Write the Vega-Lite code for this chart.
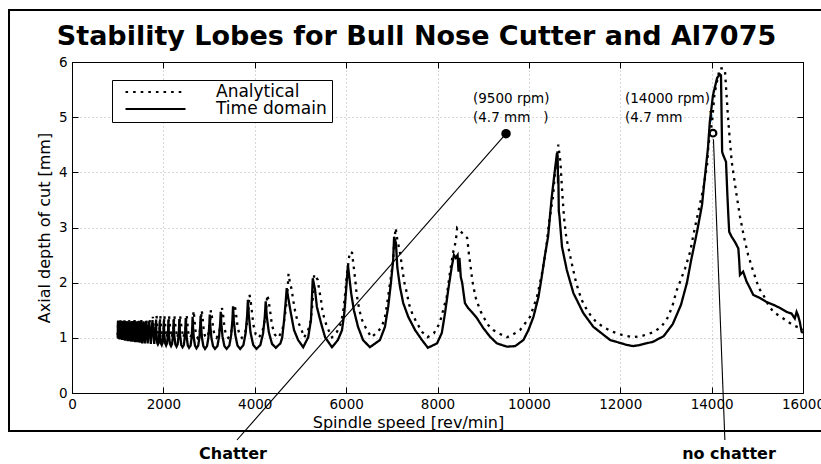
{
"$schema": "https://vega.github.io/schema/vega-lite/v6.json",
"width": 731, "height": 331,
"autosize": {"type": "none"},
"padding": {"left": 72, "top": 62, "right": 18, "bottom": 71},
"background": "white",
"title": {"text": "Stability Lobes for Bull Nose Cutter and Al7075", "font": "DejaVu Sans", "fontWeight": "bold", "fontSize": 27, "color": "#000", "anchor": "middle", "dx": -21, "offset": 0, "dy": 63, "baseline": "alphabetic"},
"config": {"view": {"stroke": "#000", "strokeWidth": 1}, "font": "DejaVu Sans"},
"datasets": {
"lobes": [
{"series":"Analytical","rpm":1000,"depth":1.05},{"series":"Analytical","rpm":1010,"depth":1.32},{"series":"Analytical","rpm":1022,"depth":1.0},{"series":"Analytical","rpm":1035,"depth":1.32},{"series":"Analytical","rpm":1048,"depth":1.0},{"series":"Analytical","rpm":1061,"depth":1.32},{"series":"Analytical","rpm":1074,"depth":1.0},{"series":"Analytical","rpm":1088,"depth":1.32},{"series":"Analytical","rpm":1102,"depth":1.0},{"series":"Analytical","rpm":1116,"depth":1.32},{"series":"Analytical","rpm":1131,"depth":1.0},{"series":"Analytical","rpm":1147,"depth":1.32},{"series":"Analytical","rpm":1163,"depth":1.0},{"series":"Analytical","rpm":1179,"depth":1.32},{"series":"Analytical","rpm":1196,"depth":1.0},{"series":"Analytical","rpm":1213,"depth":1.32},{"series":"Analytical","rpm":1231,"depth":1.0},{"series":"Analytical","rpm":1249,"depth":1.32},{"series":"Analytical","rpm":1268,"depth":1.0},{"series":"Analytical","rpm":1287,"depth":1.32},{"series":"Analytical","rpm":1307,"depth":1.0},{"series":"Analytical","rpm":1327,"depth":1.32},{"series":"Analytical","rpm":1348,"depth":1.0},{"series":"Analytical","rpm":1369,"depth":1.32},{"series":"Analytical","rpm":1392,"depth":1.0},{"series":"Analytical","rpm":1415,"depth":1.32},{"series":"Analytical","rpm":1440,"depth":1.0},{"series":"Analytical","rpm":1464,"depth":1.32},{"series":"Analytical","rpm":1490,"depth":1.0},{"series":"Analytical","rpm":1517,"depth":1.32},{"series":"Analytical","rpm":1545,"depth":1.0},{"series":"Analytical","rpm":1573,"depth":1.32},{"series":"Analytical","rpm":1603,"depth":1.0},{"series":"Analytical","rpm":1634,"depth":1.32},{"series":"Analytical","rpm":1666,"depth":1.0},{"series":"Analytical","rpm":1699,"depth":1.32},{"series":"Analytical","rpm":1734,"depth":1.0},{"series":"Analytical","rpm":1770,"depth":1.38},{"series":"Analytical","rpm":1810,"depth":1.0},{"series":"Analytical","rpm":1850,"depth":1.41},
{"series":"Analytical","rpm":1862,"depth":1.25},{"series":"Analytical","rpm":1891,"depth":1.0},{"series":"Analytical","rpm":1920,"depth":1.18},{"series":"Analytical","rpm":1932,"depth":1.41},
{"series":"Analytical","rpm":1946,"depth":1.25},{"series":"Analytical","rpm":1977,"depth":1.0},{"series":"Analytical","rpm":2008,"depth":1.18},{"series":"Analytical","rpm":2022,"depth":1.41},
{"series":"Analytical","rpm":2037,"depth":1.25},{"series":"Analytical","rpm":2072,"depth":1.0},{"series":"Analytical","rpm":2108,"depth":1.18},{"series":"Analytical","rpm":2123,"depth":1.41},
{"series":"Analytical","rpm":2141,"depth":1.25},{"series":"Analytical","rpm":2181,"depth":1.0},{"series":"Analytical","rpm":2222,"depth":1.18},{"series":"Analytical","rpm":2240,"depth":1.41},
{"series":"Analytical","rpm":2259,"depth":1.25},{"series":"Analytical","rpm":2303,"depth":1.0},{"series":"Analytical","rpm":2347,"depth":1.18},{"series":"Analytical","rpm":2366,"depth":1.41},
{"series":"Analytical","rpm":2387,"depth":1.25},{"series":"Analytical","rpm":2436,"depth":1.0},{"series":"Analytical","rpm":2486,"depth":1.18},{"series":"Analytical","rpm":2507,"depth":1.41},
{"series":"Analytical","rpm":2515,"depth":1.37},{"series":"Analytical","rpm":2525,"depth":1.27},{"series":"Analytical","rpm":2541,"depth":1.12},{"series":"Analytical","rpm":2561,"depth":1.03},{"series":"Analytical","rpm":2584,"depth":1.0},{"series":"Analytical","rpm":2614,"depth":1.05},{"series":"Analytical","rpm":2632,"depth":1.16},{"series":"Analytical","rpm":2648,"depth":1.29},{"series":"Analytical","rpm":2660,"depth":1.49},
{"series":"Analytical","rpm":2669,"depth":1.44},{"series":"Analytical","rpm":2681,"depth":1.33},{"series":"Analytical","rpm":2699,"depth":1.15},{"series":"Analytical","rpm":2722,"depth":1.04},{"series":"Analytical","rpm":2749,"depth":1.0},{"series":"Analytical","rpm":2784,"depth":1.05},{"series":"Analytical","rpm":2805,"depth":1.16},{"series":"Analytical","rpm":2823,"depth":1.3},{"series":"Analytical","rpm":2837,"depth":1.5},
{"series":"Analytical","rpm":2847,"depth":1.45},{"series":"Analytical","rpm":2861,"depth":1.34},{"series":"Analytical","rpm":2882,"depth":1.15},{"series":"Analytical","rpm":2908,"depth":1.04},{"series":"Analytical","rpm":2939,"depth":1.0},{"series":"Analytical","rpm":2979,"depth":1.05},{"series":"Analytical","rpm":3003,"depth":1.16},{"series":"Analytical","rpm":3024,"depth":1.3},{"series":"Analytical","rpm":3040,"depth":1.5},
{"series":"Analytical","rpm":3052,"depth":1.45},{"series":"Analytical","rpm":3069,"depth":1.34},{"series":"Analytical","rpm":3093,"depth":1.15},{"series":"Analytical","rpm":3125,"depth":1.04},{"series":"Analytical","rpm":3161,"depth":1.0},{"series":"Analytical","rpm":3209,"depth":1.05},{"series":"Analytical","rpm":3238,"depth":1.17},{"series":"Analytical","rpm":3263,"depth":1.32},{"series":"Analytical","rpm":3282,"depth":1.54},
{"series":"Analytical","rpm":3296,"depth":1.49},{"series":"Analytical","rpm":3315,"depth":1.36},{"series":"Analytical","rpm":3342,"depth":1.16},{"series":"Analytical","rpm":3378,"depth":1.04},{"series":"Analytical","rpm":3419,"depth":1.0},{"series":"Analytical","rpm":3473,"depth":1.06},{"series":"Analytical","rpm":3506,"depth":1.19},{"series":"Analytical","rpm":3533,"depth":1.36},{"series":"Analytical","rpm":3555,"depth":1.6},
{"series":"Analytical","rpm":3572,"depth":1.54},{"series":"Analytical","rpm":3595,"depth":1.4},{"series":"Analytical","rpm":3628,"depth":1.18},{"series":"Analytical","rpm":3671,"depth":1.05},{"series":"Analytical","rpm":3720,"depth":1.0},{"series":"Analytical","rpm":3786,"depth":1.08},{"series":"Analytical","rpm":3826,"depth":1.25},{"series":"Analytical","rpm":3859,"depth":1.47},{"series":"Analytical","rpm":3885,"depth":1.78},
{"series":"Analytical","rpm":3905,"depth":1.7},{"series":"Analytical","rpm":3932,"depth":1.52},{"series":"Analytical","rpm":3971,"depth":1.23},{"series":"Analytical","rpm":4022,"depth":1.06},{"series":"Analytical","rpm":4080,"depth":1.0},{"series":"Analytical","rpm":4158,"depth":1.08},{"series":"Analytical","rpm":4205,"depth":1.25},{"series":"Analytical","rpm":4244,"depth":1.47},{"series":"Analytical","rpm":4275,"depth":1.78},
{"series":"Analytical","rpm":4298,"depth":1.7},{"series":"Analytical","rpm":4331,"depth":1.52},{"series":"Analytical","rpm":4377,"depth":1.23},{"series":"Analytical","rpm":4438,"depth":1.06},{"series":"Analytical","rpm":4508,"depth":1.0},{"series":"Analytical","rpm":4601,"depth":1.12},{"series":"Analytical","rpm":4656,"depth":1.37},{"series":"Analytical","rpm":4703,"depth":1.7},{"series":"Analytical","rpm":4740,"depth":2.16},
{"series":"Analytical","rpm":4770,"depth":2.0},{"series":"Analytical","rpm":4810,"depth":1.87},{"series":"Analytical","rpm":4840,"depth":1.69},{"series":"Analytical","rpm":4880,"depth":1.5},{"series":"Analytical","rpm":4930,"depth":1.32},{"series":"Analytical","rpm":5010,"depth":1.18},{"series":"Analytical","rpm":5080,"depth":1.01},{"series":"Analytical","rpm":5140,"depth":1.09},{"series":"Analytical","rpm":5210,"depth":1.23},{"series":"Analytical","rpm":5250,"depth":1.5},{"series":"Analytical","rpm":5280,"depth":1.81},{"series":"Analytical","rpm":5300,"depth":2.15},
{"series":"Analytical","rpm":5380,"depth":2.05},{"series":"Analytical","rpm":5410,"depth":1.87},{"series":"Analytical","rpm":5450,"depth":1.69},{"series":"Analytical","rpm":5480,"depth":1.5},{"series":"Analytical","rpm":5520,"depth":1.36},{"series":"Analytical","rpm":5580,"depth":1.2},{"series":"Analytical","rpm":5690,"depth":1.01},{"series":"Analytical","rpm":5800,"depth":1.11},{"series":"Analytical","rpm":5890,"depth":1.27},{"series":"Analytical","rpm":5940,"depth":1.5},{"series":"Analytical","rpm":5980,"depth":1.81},{"series":"Analytical","rpm":6020,"depth":2.17},{"series":"Analytical","rpm":6080,"depth":2.56},
{"series":"Analytical","rpm":6130,"depth":2.54},{"series":"Analytical","rpm":6170,"depth":2.26},{"series":"Analytical","rpm":6200,"depth":2.05},{"series":"Analytical","rpm":6220,"depth":1.87},{"series":"Analytical","rpm":6250,"depth":1.69},{"series":"Analytical","rpm":6290,"depth":1.5},{"series":"Analytical","rpm":6350,"depth":1.32},{"series":"Analytical","rpm":6430,"depth":1.18},{"series":"Analytical","rpm":6550,"depth":1.01},{"series":"Analytical","rpm":6670,"depth":1.09},{"series":"Analytical","rpm":6780,"depth":1.2},{"series":"Analytical","rpm":6850,"depth":1.38},{"series":"Analytical","rpm":6900,"depth":1.63},{"series":"Analytical","rpm":6940,"depth":1.87},{"series":"Analytical","rpm":6980,"depth":2.1},{"series":"Analytical","rpm":7030,"depth":2.41},{"series":"Analytical","rpm":7050,"depth":2.72},{"series":"Analytical","rpm":7085,"depth":2.99},
{"series":"Analytical","rpm":7110,"depth":2.83},{"series":"Analytical","rpm":7180,"depth":2.54},{"series":"Analytical","rpm":7230,"depth":2.26},{"series":"Analytical","rpm":7270,"depth":2.02},{"series":"Analytical","rpm":7330,"depth":1.81},{"series":"Analytical","rpm":7380,"depth":1.6},{"series":"Analytical","rpm":7460,"depth":1.41},{"series":"Analytical","rpm":7550,"depth":1.27},{"series":"Analytical","rpm":7660,"depth":1.11},{"series":"Analytical","rpm":7780,"depth":1.01},{"series":"Analytical","rpm":7920,"depth":1.08},{"series":"Analytical","rpm":8050,"depth":1.27},{"series":"Analytical","rpm":8200,"depth":1.74},{"series":"Analytical","rpm":8270,"depth":2.17},{"series":"Analytical","rpm":8340,"depth":2.54},{"series":"Analytical","rpm":8400,"depth":2.75},{"series":"Analytical","rpm":8430,"depth":2.99},
{"series":"Analytical","rpm":8650,"depth":2.81},{"series":"Analytical","rpm":8690,"depth":2.5},{"series":"Analytical","rpm":8730,"depth":2.26},{"series":"Analytical","rpm":8760,"depth":2.05},{"series":"Analytical","rpm":8800,"depth":1.87},{"series":"Analytical","rpm":8840,"depth":1.72},{"series":"Analytical","rpm":8890,"depth":1.6},{"series":"Analytical","rpm":8950,"depth":1.47},{"series":"Analytical","rpm":9020,"depth":1.36},{"series":"Analytical","rpm":9110,"depth":1.23},{"series":"Analytical","rpm":9220,"depth":1.14},{"series":"Analytical","rpm":9370,"depth":1.07},{"series":"Analytical","rpm":9520,"depth":1.01},{"series":"Analytical","rpm":9650,"depth":1.06},{"series":"Analytical","rpm":9805,"depth":1.14},{"series":"Analytical","rpm":10025,"depth":1.38},{"series":"Analytical","rpm":10177,"depth":1.74},{"series":"Analytical","rpm":10287,"depth":2.17},{"series":"Analytical","rpm":10374,"depth":2.59},{"series":"Analytical","rpm":10440,"depth":3.08},{"series":"Analytical","rpm":10527,"depth":3.55},{"series":"Analytical","rpm":10571,"depth":3.99},{"series":"Analytical","rpm":10645,"depth":4.5},
{"series":"Analytical","rpm":10690,"depth":4.19},{"series":"Analytical","rpm":10730,"depth":3.64},{"series":"Analytical","rpm":10770,"depth":3.17},{"series":"Analytical","rpm":10820,"depth":2.81},{"series":"Analytical","rpm":10900,"depth":2.5},{"series":"Analytical","rpm":10960,"depth":2.27},{"series":"Analytical","rpm":11020,"depth":2.05},{"series":"Analytical","rpm":11080,"depth":1.87},{"series":"Analytical","rpm":11160,"depth":1.68},{"series":"Analytical","rpm":11240,"depth":1.55},{"series":"Analytical","rpm":11340,"depth":1.42},{"series":"Analytical","rpm":11460,"depth":1.3},{"series":"Analytical","rpm":11620,"depth":1.2},{"series":"Analytical","rpm":11830,"depth":1.11},{"series":"Analytical","rpm":12050,"depth":1.05},{"series":"Analytical","rpm":12280,"depth":1.01},{"series":"Analytical","rpm":12500,"depth":1.04},{"series":"Analytical","rpm":12720,"depth":1.1},{"series":"Analytical","rpm":12900,"depth":1.2},{"series":"Analytical","rpm":13050,"depth":1.38},{"series":"Analytical","rpm":13150,"depth":1.6},{"series":"Analytical","rpm":13230,"depth":1.85},{"series":"Analytical","rpm":13310,"depth":2.02},{"series":"Analytical","rpm":13420,"depth":2.26},{"series":"Analytical","rpm":13530,"depth":2.56},{"series":"Analytical","rpm":13600,"depth":2.86},{"series":"Analytical","rpm":13710,"depth":3.29},{"series":"Analytical","rpm":13820,"depth":3.71},{"series":"Analytical","rpm":13900,"depth":4.13},{"series":"Analytical","rpm":13930,"depth":4.5},{"series":"Analytical","rpm":14010,"depth":4.92},{"series":"Analytical","rpm":14060,"depth":5.4},{"series":"Analytical","rpm":14100,"depth":5.58},{"series":"Analytical","rpm":14180,"depth":5.89},{"series":"Analytical","rpm":14290,"depth":5.87},{"series":"Analytical","rpm":14365,"depth":4.92},{"series":"Analytical","rpm":14440,"depth":4.19},{"series":"Analytical","rpm":14535,"depth":3.65},{"series":"Analytical","rpm":14620,"depth":3.2},{"series":"Analytical","rpm":14710,"depth":2.82},{"series":"Analytical","rpm":14800,"depth":2.5},{"series":"Analytical","rpm":14890,"depth":2.26},{"series":"Analytical","rpm":14950,"depth":2.11},{"series":"Analytical","rpm":15035,"depth":1.9},{"series":"Analytical","rpm":15130,"depth":1.78},{"series":"Analytical","rpm":15240,"depth":1.6},{"series":"Analytical","rpm":15350,"depth":1.47},{"series":"Analytical","rpm":15570,"depth":1.35},{"series":"Analytical","rpm":15780,"depth":1.23},{"series":"Analytical","rpm":15930,"depth":1.18},{"series":"Analytical","rpm":16000,"depth":1.15},
{"series":"Time domain","rpm":1000,"depth":1.0},{"series":"Time domain","rpm":1006,"depth":1.3},{"series":"Time domain","rpm":1018,"depth":0.98},{"series":"Time domain","rpm":1030,"depth":1.3},{"series":"Time domain","rpm":1043,"depth":0.97},{"series":"Time domain","rpm":1056,"depth":1.3},{"series":"Time domain","rpm":1070,"depth":0.97},{"series":"Time domain","rpm":1083,"depth":1.3},{"series":"Time domain","rpm":1097,"depth":0.96},{"series":"Time domain","rpm":1111,"depth":1.3},{"series":"Time domain","rpm":1126,"depth":0.96},{"series":"Time domain","rpm":1142,"depth":1.3},{"series":"Time domain","rpm":1158,"depth":0.95},{"series":"Time domain","rpm":1174,"depth":1.3},{"series":"Time domain","rpm":1190,"depth":0.95},{"series":"Time domain","rpm":1207,"depth":1.3},{"series":"Time domain","rpm":1225,"depth":0.94},{"series":"Time domain","rpm":1243,"depth":1.3},{"series":"Time domain","rpm":1261,"depth":0.94},{"series":"Time domain","rpm":1280,"depth":1.3},{"series":"Time domain","rpm":1300,"depth":0.93},{"series":"Time domain","rpm":1320,"depth":1.3},{"series":"Time domain","rpm":1341,"depth":0.93},{"series":"Time domain","rpm":1362,"depth":1.3},{"series":"Time domain","rpm":1385,"depth":0.92},{"series":"Time domain","rpm":1408,"depth":1.3},{"series":"Time domain","rpm":1432,"depth":0.92},{"series":"Time domain","rpm":1457,"depth":1.3},{"series":"Time domain","rpm":1483,"depth":0.91},{"series":"Time domain","rpm":1509,"depth":1.3},{"series":"Time domain","rpm":1537,"depth":0.9},{"series":"Time domain","rpm":1565,"depth":1.3},{"series":"Time domain","rpm":1595,"depth":0.9},{"series":"Time domain","rpm":1625,"depth":1.3},{"series":"Time domain","rpm":1657,"depth":0.9},{"series":"Time domain","rpm":1690,"depth":1.3},{"series":"Time domain","rpm":1725,"depth":0.89},{"series":"Time domain","rpm":1761,"depth":1.32},{"series":"Time domain","rpm":1800,"depth":0.89},{"series":"Time domain","rpm":1840,"depth":1.3},
{"series":"Time domain","rpm":1848,"depth":1.07},{"series":"Time domain","rpm":1864,"depth":0.91},{"series":"Time domain","rpm":1880,"depth":0.88},{"series":"Time domain","rpm":1896,"depth":0.91},{"series":"Time domain","rpm":1912,"depth":1.07},{"series":"Time domain","rpm":1920,"depth":1.3},
{"series":"Time domain","rpm":1929,"depth":1.06},{"series":"Time domain","rpm":1947,"depth":0.9},{"series":"Time domain","rpm":1965,"depth":0.87},{"series":"Time domain","rpm":1983,"depth":0.91},{"series":"Time domain","rpm":2001,"depth":1.07},{"series":"Time domain","rpm":2010,"depth":1.31},
{"series":"Time domain","rpm":2020,"depth":1.06},{"series":"Time domain","rpm":2040,"depth":0.9},{"series":"Time domain","rpm":2060,"depth":0.86},{"series":"Time domain","rpm":2080,"depth":0.9},{"series":"Time domain","rpm":2100,"depth":1.07},{"series":"Time domain","rpm":2110,"depth":1.32},
{"series":"Time domain","rpm":2121,"depth":1.06},{"series":"Time domain","rpm":2145,"depth":0.89},{"series":"Time domain","rpm":2168,"depth":0.85},{"series":"Time domain","rpm":2190,"depth":0.89},{"series":"Time domain","rpm":2214,"depth":1.07},{"series":"Time domain","rpm":2225,"depth":1.33},
{"series":"Time domain","rpm":2237,"depth":1.06},{"series":"Time domain","rpm":2262,"depth":0.88},{"series":"Time domain","rpm":2288,"depth":0.84},{"series":"Time domain","rpm":2312,"depth":0.88},{"series":"Time domain","rpm":2337,"depth":1.07},{"series":"Time domain","rpm":2350,"depth":1.34},
{"series":"Time domain","rpm":2364,"depth":1.06},{"series":"Time domain","rpm":2392,"depth":0.87},{"series":"Time domain","rpm":2420,"depth":0.83},{"series":"Time domain","rpm":2448,"depth":0.87},{"series":"Time domain","rpm":2476,"depth":1.07},{"series":"Time domain","rpm":2490,"depth":1.36},
{"series":"Time domain","rpm":2498,"depth":1.19},{"series":"Time domain","rpm":2512,"depth":1.0},{"series":"Time domain","rpm":2535,"depth":0.86},{"series":"Time domain","rpm":2562,"depth":0.82},{"series":"Time domain","rpm":2595,"depth":0.86},{"series":"Time domain","rpm":2618,"depth":1.0},{"series":"Time domain","rpm":2632,"depth":1.2},{"series":"Time domain","rpm":2640,"depth":1.38},
{"series":"Time domain","rpm":2649,"depth":1.2},{"series":"Time domain","rpm":2666,"depth":1.0},{"series":"Time domain","rpm":2692,"depth":0.86},{"series":"Time domain","rpm":2724,"depth":0.81},{"series":"Time domain","rpm":2762,"depth":0.86},{"series":"Time domain","rpm":2789,"depth":1.0},{"series":"Time domain","rpm":2806,"depth":1.21},{"series":"Time domain","rpm":2815,"depth":1.4},
{"series":"Time domain","rpm":2825,"depth":1.21},{"series":"Time domain","rpm":2845,"depth":1.0},{"series":"Time domain","rpm":2875,"depth":0.85},{"series":"Time domain","rpm":2911,"depth":0.8},{"series":"Time domain","rpm":2955,"depth":0.85},{"series":"Time domain","rpm":2985,"depth":1.0},{"series":"Time domain","rpm":3005,"depth":1.22},{"series":"Time domain","rpm":3015,"depth":1.42},
{"series":"Time domain","rpm":3027,"depth":1.22},{"series":"Time domain","rpm":3051,"depth":1.0},{"series":"Time domain","rpm":3087,"depth":0.85},{"series":"Time domain","rpm":3130,"depth":0.8},{"series":"Time domain","rpm":3183,"depth":0.85},{"series":"Time domain","rpm":3219,"depth":1.02},{"series":"Time domain","rpm":3243,"depth":1.26},{"series":"Time domain","rpm":3255,"depth":1.47},
{"series":"Time domain","rpm":3268,"depth":1.26},{"series":"Time domain","rpm":3295,"depth":1.02},{"series":"Time domain","rpm":3336,"depth":0.85},{"series":"Time domain","rpm":3385,"depth":0.8},{"series":"Time domain","rpm":3444,"depth":0.86},{"series":"Time domain","rpm":3484,"depth":1.05},{"series":"Time domain","rpm":3511,"depth":1.32},{"series":"Time domain","rpm":3525,"depth":1.57},
{"series":"Time domain","rpm":3541,"depth":1.32},{"series":"Time domain","rpm":3574,"depth":1.05},{"series":"Time domain","rpm":3622,"depth":0.86},{"series":"Time domain","rpm":3681,"depth":0.8},{"series":"Time domain","rpm":3752,"depth":0.87},{"series":"Time domain","rpm":3801,"depth":1.09},{"series":"Time domain","rpm":3834,"depth":1.41},{"series":"Time domain","rpm":3850,"depth":1.69},
{"series":"Time domain","rpm":3870,"depth":1.41},{"series":"Time domain","rpm":3908,"depth":1.09},{"series":"Time domain","rpm":3967,"depth":0.87},{"series":"Time domain","rpm":4037,"depth":0.8},{"series":"Time domain","rpm":4123,"depth":0.87},{"series":"Time domain","rpm":4182,"depth":1.08},{"series":"Time domain","rpm":4220,"depth":1.38},{"series":"Time domain","rpm":4240,"depth":1.66},
{"series":"Time domain","rpm":4263,"depth":1.39},{"series":"Time domain","rpm":4309,"depth":1.1},{"series":"Time domain","rpm":4378,"depth":0.89},{"series":"Time domain","rpm":4461,"depth":0.82},{"series":"Time domain","rpm":4562,"depth":0.9},{"series":"Time domain","rpm":4600,"depth":1.0},{"series":"Time domain","rpm":4640,"depth":1.3},{"series":"Time domain","rpm":4680,"depth":1.68},{"series":"Time domain","rpm":4700,"depth":1.9},
{"series":"Time domain","rpm":4730,"depth":1.74},{"series":"Time domain","rpm":4790,"depth":1.45},{"series":"Time domain","rpm":4860,"depth":1.14},{"series":"Time domain","rpm":4950,"depth":0.96},{"series":"Time domain","rpm":5060,"depth":0.83},{"series":"Time domain","rpm":5170,"depth":1.01},{"series":"Time domain","rpm":5230,"depth":1.32},{"series":"Time domain","rpm":5250,"depth":1.69},{"series":"Time domain","rpm":5270,"depth":2.08},
{"series":"Time domain","rpm":5320,"depth":1.87},{"series":"Time domain","rpm":5360,"depth":1.56},{"series":"Time domain","rpm":5450,"depth":1.27},{"series":"Time domain","rpm":5540,"depth":1.01},{"series":"Time domain","rpm":5690,"depth":0.83},{"series":"Time domain","rpm":5820,"depth":0.96},{"series":"Time domain","rpm":5910,"depth":1.14},{"series":"Time domain","rpm":5960,"depth":1.45},{"series":"Time domain","rpm":6000,"depth":1.87},{"series":"Time domain","rpm":6040,"depth":2.32},
{"series":"Time domain","rpm":6070,"depth":2.1},{"series":"Time domain","rpm":6110,"depth":1.81},{"series":"Time domain","rpm":6170,"depth":1.5},{"series":"Time domain","rpm":6260,"depth":1.2},{"series":"Time domain","rpm":6370,"depth":0.96},{"series":"Time domain","rpm":6520,"depth":0.83},{"series":"Time domain","rpm":6740,"depth":0.96},{"series":"Time domain","rpm":6850,"depth":1.2},{"series":"Time domain","rpm":6920,"depth":1.56},{"series":"Time domain","rpm":6980,"depth":1.99},{"series":"Time domain","rpm":7030,"depth":2.41},{"series":"Time domain","rpm":7050,"depth":2.83},
{"series":"Time domain","rpm":7090,"depth":2.72},{"series":"Time domain","rpm":7120,"depth":2.28},{"series":"Time domain","rpm":7180,"depth":1.92},{"series":"Time domain","rpm":7250,"depth":1.63},{"series":"Time domain","rpm":7360,"depth":1.38},{"series":"Time domain","rpm":7510,"depth":1.14},{"series":"Time domain","rpm":7660,"depth":0.96},{"series":"Time domain","rpm":7790,"depth":0.82},{"series":"Time domain","rpm":7990,"depth":0.9},{"series":"Time domain","rpm":8095,"depth":1.09},{"series":"Time domain","rpm":8165,"depth":1.45},{"series":"Time domain","rpm":8235,"depth":1.87},{"series":"Time domain","rpm":8310,"depth":2.28},{"series":"Time domain","rpm":8360,"depth":2.5},{"series":"Time domain","rpm":8400,"depth":2.45},{"series":"Time domain","rpm":8440,"depth":2.5},{"series":"Time domain","rpm":8460,"depth":2.2},{"series":"Time domain","rpm":8480,"depth":2.45},{"series":"Time domain","rpm":8510,"depth":2.1},{"series":"Time domain","rpm":8540,"depth":2.0},{"series":"Time domain","rpm":8600,"depth":1.63},{"series":"Time domain","rpm":8670,"depth":1.54},{"series":"Time domain","rpm":8750,"depth":1.47},{"series":"Time domain","rpm":8860,"depth":1.36},{"series":"Time domain","rpm":9000,"depth":1.18},{"series":"Time domain","rpm":9150,"depth":1.02},{"series":"Time domain","rpm":9300,"depth":0.9},{"series":"Time domain","rpm":9520,"depth":0.84},{"series":"Time domain","rpm":9700,"depth":0.85},{"series":"Time domain","rpm":9880,"depth":0.96},{"series":"Time domain","rpm":9990,"depth":1.14},{"series":"Time domain","rpm":10100,"depth":1.38},{"series":"Time domain","rpm":10210,"depth":1.74},{"series":"Time domain","rpm":10280,"depth":2.1},{"series":"Time domain","rpm":10360,"depth":2.54},{"series":"Time domain","rpm":10420,"depth":2.83},{"series":"Time domain","rpm":10500,"depth":3.55},{"series":"Time domain","rpm":10570,"depth":4.04},{"series":"Time domain","rpm":10615,"depth":4.35},{"series":"Time domain","rpm":10630,"depth":4.3},{"series":"Time domain","rpm":10638,"depth":3.8},{"series":"Time domain","rpm":10645,"depth":3.95},{"series":"Time domain","rpm":10655,"depth":3.3},{"series":"Time domain","rpm":10670,"depth":3.2},{"series":"Time domain","rpm":10725,"depth":2.65},{"series":"Time domain","rpm":10830,"depth":2.23},{"series":"Time domain","rpm":10975,"depth":1.81},{"series":"Time domain","rpm":11190,"depth":1.45},{"series":"Time domain","rpm":11410,"depth":1.2},{"series":"Time domain","rpm":11780,"depth":0.96},{"series":"Time domain","rpm":12150,"depth":0.87},{"series":"Time domain","rpm":12280,"depth":0.85},{"series":"Time domain","rpm":12430,"depth":0.87},{"series":"Time domain","rpm":12720,"depth":0.93},{"series":"Time domain","rpm":12950,"depth":1.03},{"series":"Time domain","rpm":13150,"depth":1.25},{"series":"Time domain","rpm":13330,"depth":1.6},{"series":"Time domain","rpm":13460,"depth":2.0},{"series":"Time domain","rpm":13550,"depth":2.4},{"series":"Time domain","rpm":13680,"depth":2.92},{"series":"Time domain","rpm":13790,"depth":3.41},{"series":"Time domain","rpm":13850,"depth":3.9},{"series":"Time domain","rpm":13920,"depth":4.44},{"series":"Time domain","rpm":13960,"depth":4.91},{"series":"Time domain","rpm":14030,"depth":5.4},{"series":"Time domain","rpm":14120,"depth":5.71},{"series":"Time domain","rpm":14180,"depth":5.78},{"series":"Time domain","rpm":14205,"depth":5.76},{"series":"Time domain","rpm":14230,"depth":4.37},{"series":"Time domain","rpm":14255,"depth":4.31},{"series":"Time domain","rpm":14315,"depth":4.19},{"series":"Time domain","rpm":14345,"depth":3.59},{"series":"Time domain","rpm":14365,"depth":3.23},{"series":"Time domain","rpm":14385,"depth":2.92},{"series":"Time domain","rpm":14440,"depth":2.83},{"series":"Time domain","rpm":14510,"depth":2.74},{"series":"Time domain","rpm":14585,"depth":2.62},{"series":"Time domain","rpm":14605,"depth":2.38},{"series":"Time domain","rpm":14620,"depth":2.14},{"series":"Time domain","rpm":14690,"depth":2.2},{"series":"Time domain","rpm":14765,"depth":2.02},{"series":"Time domain","rpm":14840,"depth":1.9},{"series":"Time domain","rpm":14910,"depth":1.78},{"series":"Time domain","rpm":15060,"depth":1.72},{"series":"Time domain","rpm":15200,"depth":1.65},{"series":"Time domain","rpm":15350,"depth":1.6},{"series":"Time domain","rpm":15500,"depth":1.54},{"series":"Time domain","rpm":15640,"depth":1.47},{"series":"Time domain","rpm":15750,"depth":1.44},{"series":"Time domain","rpm":15820,"depth":1.35},{"series":"Time domain","rpm":15860,"depth":1.47},{"series":"Time domain","rpm":15890,"depth":1.41},{"series":"Time domain","rpm":15930,"depth":1.29},{"series":"Time domain","rpm":15970,"depth":1.11},{"series":"Time domain","rpm":16000,"depth":1.09}
]
},
"layer": [
{
"data": {"values": [{"x1": -1379, "x2": 16600, "y1": 6.943, "y2": -0.689}]},
"mark": {"type": "rect", "fillOpacity": 0, "stroke": "#000", "strokeWidth": 2, "clip": false},
"encoding": {
"x": {"field": "x1", "type": "quantitative", "scale": {"domain": [0, 16000], "nice": false, "zero": false}, "axis": null},
"x2": {"field": "x2"},
"y": {"field": "y1", "type": "quantitative", "scale": {"domain": [0, 6], "nice": false, "zero": false}, "axis": null},
"y2": {"field": "y2"}
}
},
{
"data": {"name": "lobes"},
"mark": {"type": "line", "strokeWidth": 2.3, "color": "#000", "clip": true},
"encoding": {
"x": {"field": "rpm", "type": "quantitative", "scale": {"domain": [0, 16000], "nice": false, "zero": false},
"axis": {"orient": "bottom", "values": [0,2000,4000,6000,8000,10000,12000,14000,16000], "format": "d", "title": "Spindle speed [rev/min]", "titleFont": "DejaVu Sans", "titleFontSize": 16, "titleFontWeight": "normal", "titleColor": "#000", "titleX": 336, "titleY": 34, "titleBaseline": "alphabetic", "titleAlign": "center", "labelFont": "DejaVu Sans", "labelFontSize": 13.5, "labelColor": "#000", "labelPadding": 10, "labelFlush": false, "labelOverlap": false, "tickSize": -6, "tickColor": "#000", "domainColor": "#000", "grid": true, "gridColor": "#b0b0b0", "gridDash": [1, 3], "gridWidth": 1}},
"y": {"field": "depth", "type": "quantitative", "scale": {"domain": [0, 6], "nice": false, "zero": false},
"axis": {"orient": "left", "values": [0,1,2,3,4,5,6], "title": "Axial depth of cut [mm]", "titleFont": "DejaVu Sans", "titleFontSize": 16, "titleFontWeight": "normal", "titleColor": "#000", "titleX": -23, "titleY": 165.5, "titleAngle": -90, "titleBaseline": "alphabetic", "titleAlign": "center", "labelFont": "DejaVu Sans", "labelFontSize": 13.5, "labelColor": "#000", "labelPadding": 11, "labelFlush": false, "labelOverlap": false, "tickSize": -6, "tickColor": "#000", "domainColor": "#000", "grid": true, "gridColor": "#b0b0b0", "gridDash": [1, 3], "gridWidth": 1}},
"strokeDash": {"field": "series", "type": "nominal", "scale": {"domain": ["Analytical", "Time domain"], "range": [[2.6, 5], [1, 0]]},
"legend": {"orient": "none", "legendX": 40, "legendY": 18, "title": null, "strokeColor": "#000", "fillColor": "#fff", "padding": 5, "cornerRadius": 0, "labelFont": "DejaVu Sans", "labelFontSize": 17, "labelColor": "#000", "labelOffset": 82, "rowPadding": 0, "clipHeight": 14, "symbolType": "M0,0H12", "symbolSize": 100, "symbolStrokeWidth": 2.2, "symbolStrokeColor": "#000", "symbolFillColor": "transparent"}}
}
},
{
"data": {"values": [{"x1": 9500, "y1": 4.7, "x2": 3611, "y2": -0.852}, {"x1": 14040, "y1": 4.6, "x2": 14290, "y2": -0.852}]},
"mark": {"type": "rule", "strokeWidth": 1.1, "color": "#000", "clip": false},
"encoding": {
"x": {"field": "x1", "type": "quantitative", "scale": {"domain": [0, 16000], "nice": false, "zero": false},
"axis": {"orient": "top", "values": [0,2000,4000,6000,8000,10000,12000,14000,16000], "labels": false, "title": null, "tickSize": -6, "tickColor": "#000", "domainColor": "#000", "grid": false}},
"x2": {"field": "x2"},
"y": {"field": "y1", "type": "quantitative", "scale": {"domain": [0, 6], "nice": false, "zero": false},
"axis": {"orient": "right", "values": [0,1,2,3,4,5,6], "labels": false, "title": null, "tickSize": -6, "tickColor": "#000", "domainColor": "#000", "grid": false}},
"y2": {"field": "y2"}
}
},
{
"data": {"values": [{"rpm": 9500, "depth": 4.7}]},
"mark": {"type": "point", "filled": true, "size": 90, "color": "#000", "opacity": 1},
"encoding": {
"x": {"field": "rpm", "type": "quantitative", "scale": {"domain": [0, 16000], "nice": false, "zero": false}, "axis": null},
"y": {"field": "depth", "type": "quantitative", "scale": {"domain": [0, 6], "nice": false, "zero": false}, "axis": null}
}
},
{
"data": {"values": [{"rpm": 14030, "depth": 4.71}]},
"mark": {"type": "point", "filled": false, "fill": "#fff", "fillOpacity": 1, "stroke": "#000", "strokeWidth": 2.2, "size": 45, "opacity": 1},
"encoding": {
"x": {"field": "rpm", "type": "quantitative", "scale": {"domain": [0, 16000], "nice": false, "zero": false}, "axis": null},
"y": {"field": "depth", "type": "quantitative", "scale": {"domain": [0, 6], "nice": false, "zero": false}, "axis": null}
}
},
{
"data": {"values": [
{"rpm": 8777, "depth": 5.33, "label": "(9500 rpm)"},
{"rpm": 8777, "depth": 4.98, "label": "(4.7 mm\u00a0\u00a0\u00a0)"},
{"rpm": 12104, "depth": 5.33, "label": "(14000 rpm)"},
{"rpm": 12104, "depth": 4.98, "label": "(4.7 mm\u00a0\u00a0\u00a0\u00a0\u00a0\u00a0)"}
]},
"mark": {"type": "text", "align": "left", "baseline": "middle", "font": "DejaVu Sans", "fontSize": 13.5, "color": "#000"},
"encoding": {
"x": {"field": "rpm", "type": "quantitative", "scale": {"domain": [0, 16000], "nice": false, "zero": false}, "axis": null},
"y": {"field": "depth", "type": "quantitative", "scale": {"domain": [0, 6], "nice": false, "zero": false}, "axis": null},
"text": {"field": "label"}
}
},
{
"data": {"values": [
{"rpm": 3524, "depth": -1.106, "label": "Chatter"},
{"rpm": 14380, "depth": -1.106, "label": "no chatter"}
]},
"mark": {"type": "text", "align": "center", "baseline": "middle", "font": "DejaVu Sans", "fontWeight": "bold", "fontSize": 16, "color": "#000", "clip": false},
"encoding": {
"x": {"field": "rpm", "type": "quantitative", "scale": {"domain": [0, 16000], "nice": false, "zero": false}, "axis": null},
"y": {"field": "depth", "type": "quantitative", "scale": {"domain": [0, 6], "nice": false, "zero": false}, "axis": null},
"text": {"field": "label"}
}
}
],
"resolve": {"axis": {"x": "independent", "y": "independent"}}
}
